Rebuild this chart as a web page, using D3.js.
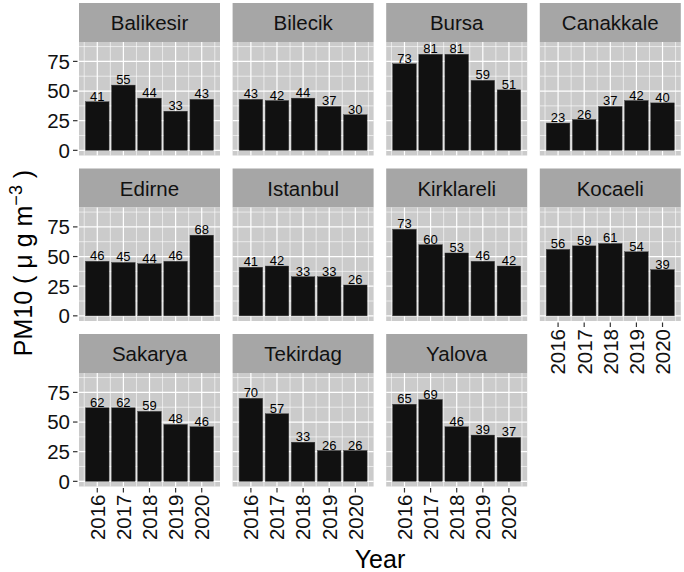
<!DOCTYPE html>
<html><head><meta charset="utf-8">
<script src="https://cdn.jsdelivr.net/npm/d3@7"></script>
<style>body{margin:0;background:#fff}svg{display:block}text{font-family:"Liberation Sans",Arial,sans-serif}</style>
</head><body>
<svg id="c" width="684" height="572"></svg>
<script>
const years = ["2016","2017","2018","2019","2020"];
const provinces = ["Balikesir","Bilecik","Bursa","Canakkale","Edirne","Istanbul","Kirklareli","Kocaeli","Sakarya","Tekirdag","Yalova"];
const balikesir = [41,55,44,33,43];
const bilecik = [43,42,44,37,30];
const bursa = [73,81,81,59,51];
const canakkale = [23,26,37,42,40];
const edirne = [46,45,44,46,68];
const istanbul = [41,42,33,33,26];
const kirklareli = [73,60,53,46,42];
const kocaeli = [56,59,61,54,39];
const sakarya = [62,62,59,48,46];
const tekirdag = [70,57,33,26,26];
const yalova = [65,69,46,39,37];
const yTicks = [0,25,50,75];
const yMinor = [12.5,37.5,62.5,87.5];
const values = [balikesir,bilecik,bursa,canakkale,edirne,istanbul,kirklareli,kocaeli,sakarya,tekirdag,yalova];

const svg = d3.select("#c");
const ncol = 4, pw = 141, colStep = 153.6, x0 = 79;
const rowTop0 = 3, rowStep = 165.5, stripH = 39, ph = 113.5;

const y = d3.scaleLinear().domain([-4.35, 91.35]).range([ph, 0]);
const x = d3.scaleLinear().domain([0.3, 5.7]).range([0, pw]);
const bw = x(1.9) - x(1.0);

provinces.forEach((p, i) => {
  const col = i % ncol, row = Math.floor(i / ncol);
  const px = x0 + col * colStep;
  const st = rowTop0 + row * rowStep;
  const g = svg.append("g").attr("transform", `translate(${px},${st})`);
  g.append("rect").attr("width", pw).attr("height", stripH).attr("fill", "#a6a6a6");
  g.append("text").attr("x", pw/2).attr("y", stripH/2 + 7.5).attr("text-anchor","middle")
    .attr("font-size", 20.5).attr("fill","#111").text(p);
  const pg = g.append("g").attr("transform", `translate(0,${stripH})`);
  pg.append("rect").attr("width", pw).attr("height", ph).attr("fill", "#cbcbcb");
  yMinor.forEach(v => { if (y(v) > 0) pg.append("line").attr("x1",0).attr("x2",pw).attr("y1",y(v)).attr("y2",y(v)).attr("stroke","#fff").attr("stroke-width",0.6); });
  [0.5,1.5,2.5,3.5,4.5,5.5].forEach(v => pg.append("line").attr("x1",x(v)).attr("x2",x(v)).attr("y1",0).attr("y2",ph).attr("stroke","#fff").attr("stroke-width",0.6));
  yTicks.forEach(v => pg.append("line").attr("x1",0).attr("x2",pw).attr("y1",y(v)).attr("y2",y(v)).attr("stroke","#fff").attr("stroke-width",1.2));
  years.forEach((yr,j) => pg.append("line").attr("x1",x(j+1)).attr("x2",x(j+1)).attr("y1",0).attr("y2",ph).attr("stroke","#fff").attr("stroke-width",1.2));
  const vals = values[i];
  pg.selectAll("rect.bar").data(vals).join("rect").attr("class","bar")
    .attr("x", (d,j) => x(j+1) - bw/2).attr("width", bw)
    .attr("y", d => y(d)).attr("height", d => y(0) - y(d))
    .attr("fill", "#111111").attr("stroke","#3a3a3a").attr("stroke-width",0.4);
  pg.selectAll("text.lab").data(vals).join("text").attr("class","lab")
    .attr("x", (d,j) => x(j+1)).attr("y", d => y(d) - 1)
    .attr("text-anchor","middle").attr("font-size", 13).attr("fill","#000").text(d => d);
  if (col === 0) {
    yTicks.forEach(v => {
      pg.append("line").attr("x1",-6).attr("x2",-1.5).attr("y1",y(v)).attr("y2",y(v)).attr("stroke","#333").attr("stroke-width",1.2);
      pg.append("text").attr("x",-9).attr("y",y(v)).attr("dy","0.36em").attr("text-anchor","end")
        .attr("font-size",20.5).attr("fill","#111").text(v);
    });
  }
  const isBottom = row === 2 || (row === 1 && col === 3);
  if (isBottom) {
    years.forEach((yr,j) => {
      pg.append("line").attr("x1",x(j+1)).attr("x2",x(j+1)).attr("y1",ph+1.5).attr("y2",ph+6).attr("stroke","#333").attr("stroke-width",1.2);
      pg.append("text").attr("transform",`translate(${x(j+1)},${ph+8}) rotate(-90)`)
        .attr("dy","0.36em").attr("text-anchor","end").attr("font-size",20.5).attr("fill","#111").text(yr);
    });
  }
});

svg.append("text").attr("x", 380).attr("y", 568).attr("text-anchor","middle").attr("font-size",25).attr("fill","#000").text("Year");
const yt = svg.append("text").attr("transform","translate(32,263) rotate(-90)").attr("text-anchor","middle").attr("font-size",25).attr("fill","#000");
yt.append("tspan").text("PM10 ( \u03bc g m");
yt.append("tspan").attr("font-size",18).attr("dy",-10).text("\u22123");
yt.append("tspan").attr("dy",10).text(" )");
</script>
</body></html>
